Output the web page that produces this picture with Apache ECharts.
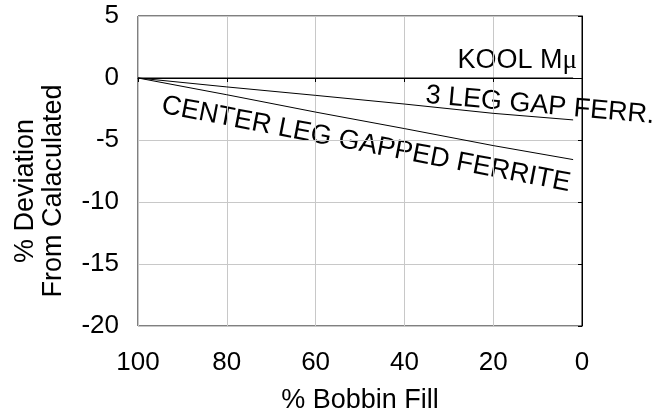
<!DOCTYPE html>
<html>
<head>
<meta charset="utf-8">
<script src="https://cdn.jsdelivr.net/npm/echarts@6/dist/echarts.min.js"></script>
<style>
html,body{margin:0;padding:0;background:#fff;overflow:hidden;}
#chart{width:654px;height:419px;}
</style>
</head>
<body>
<div id="chart"></div>
<script>
// Data
var bobbinFill = [100, 80, 60, 40, 20, 2];
var koolMu = [0, 0, 0, 0, 0, 0];
var threeLegGap = [0, -0.72, -1.4, -2.1, -2.85, -3.38];
var centerLegGapped = [0, -1.35, -2.75, -4.08, -5.45, -6.58];
var xTicks = [0, 20, 40, 60, 80, 100];
var yTicks = [-20, -15, -10, -5, 0, 5];
var seriesNames = ['KOOL M\u03bc', '3 LEG GAP FERR.', 'CENTER LEG GAPPED FERRITE'];

function pairs(xs, ys) {
  return xs.map(function (x, i) { return [x, ys[i]]; });
}

var FONT = '"Liberation Sans", Arial, sans-serif';
var chart = echarts.init(document.getElementById('chart'), null, {renderer: 'canvas'});

var lineStyle = {color: '#000', width: 1};
function mkSeries(name, ys) {
  return {
    name: name, type: 'line', data: pairs(bobbinFill, ys),
    showSymbol: false, symbol: 'none', lineStyle: lineStyle,
    animation: false, silent: true
  };
}

chart.setOption({
  animation: false,
  backgroundColor: '#fff',
  grid: {left: 138, right: 72, top: 16, bottom: 90, show: true, borderColor: '#000', borderWidth: 1, backgroundColor: 'transparent'},
  xAxis: {
    type: 'value', inverse: true, min: xTicks[0], max: xTicks[xTicks.length - 1], interval: 20,
    name: '% Bobbin Fill', nameLocation: 'middle', nameGap: 61,
    nameTextStyle: {fontFamily: FONT, fontSize: 27, color: '#000'},
    axisLine: {lineStyle: {color: '#000', width: 1}},
    axisTick: {show: true, length: 4, lineStyle: {color: '#000'}},
    axisLabel: {fontFamily: FONT, fontSize: 26, color: '#000', margin: 24},
    splitLine: {show: true, lineStyle: {color: '#c8c8c8', width: 1}}
  },
  yAxis: {
    type: 'value', min: yTicks[0], max: yTicks[yTicks.length - 1], interval: 5,
    axisLine: {show: true, lineStyle: {color: '#000', width: 1}},
    axisTick: {show: true, length: 4, lineStyle: {color: '#000'}},
    axisLabel: {fontFamily: FONT, fontSize: 26, color: '#000', margin: 19},
    splitLine: {show: true, lineStyle: {color: '#c8c8c8', width: 1}}
  },
  series: [
    mkSeries(seriesNames[0], koolMu),
    mkSeries(seriesNames[1], threeLegGap),
    mkSeries(seriesNames[2], centerLegGapped)
  ],
  graphic: [
    {
      type: 'text', x: 40, y: 191, rotation: Math.PI / 2,
      style: {text: '% Deviation\nFrom Calaculated', fontFamily: FONT, fontSize: 27, lineHeight: 28,
        fill: '#000', align: 'center', verticalAlign: 'middle'}
    },
    {
      type: 'text', x: 577, y: 60.5,
      style: {
        text: '{a|KOOL M}{m|\u03bc}',
        align: 'right', verticalAlign: 'middle',
        rich: {
          a: {fontFamily: FONT, fontSize: 27, fill: '#000', color: '#000'},
          m: {fontFamily: '"Liberation Serif", serif', fontSize: 27, fill: '#000', color: '#000'}
        }
      }
    },
    {
      type: 'text', x: 540, y: 105.5, rotation: -5.1 * Math.PI / 180,
      style: {text: seriesNames[1], fontFamily: FONT, fontSize: 27, fill: '#000', align: 'center', verticalAlign: 'middle'}
    },
    {
      type: 'text', x: 366, y: 144.5, rotation: -10.9 * Math.PI / 180,
      style: {text: seriesNames[2], fontFamily: FONT, fontSize: 27, fill: '#000', align: 'center', verticalAlign: 'middle'}
    }
  ]
});
</script>
</body>
</html>
